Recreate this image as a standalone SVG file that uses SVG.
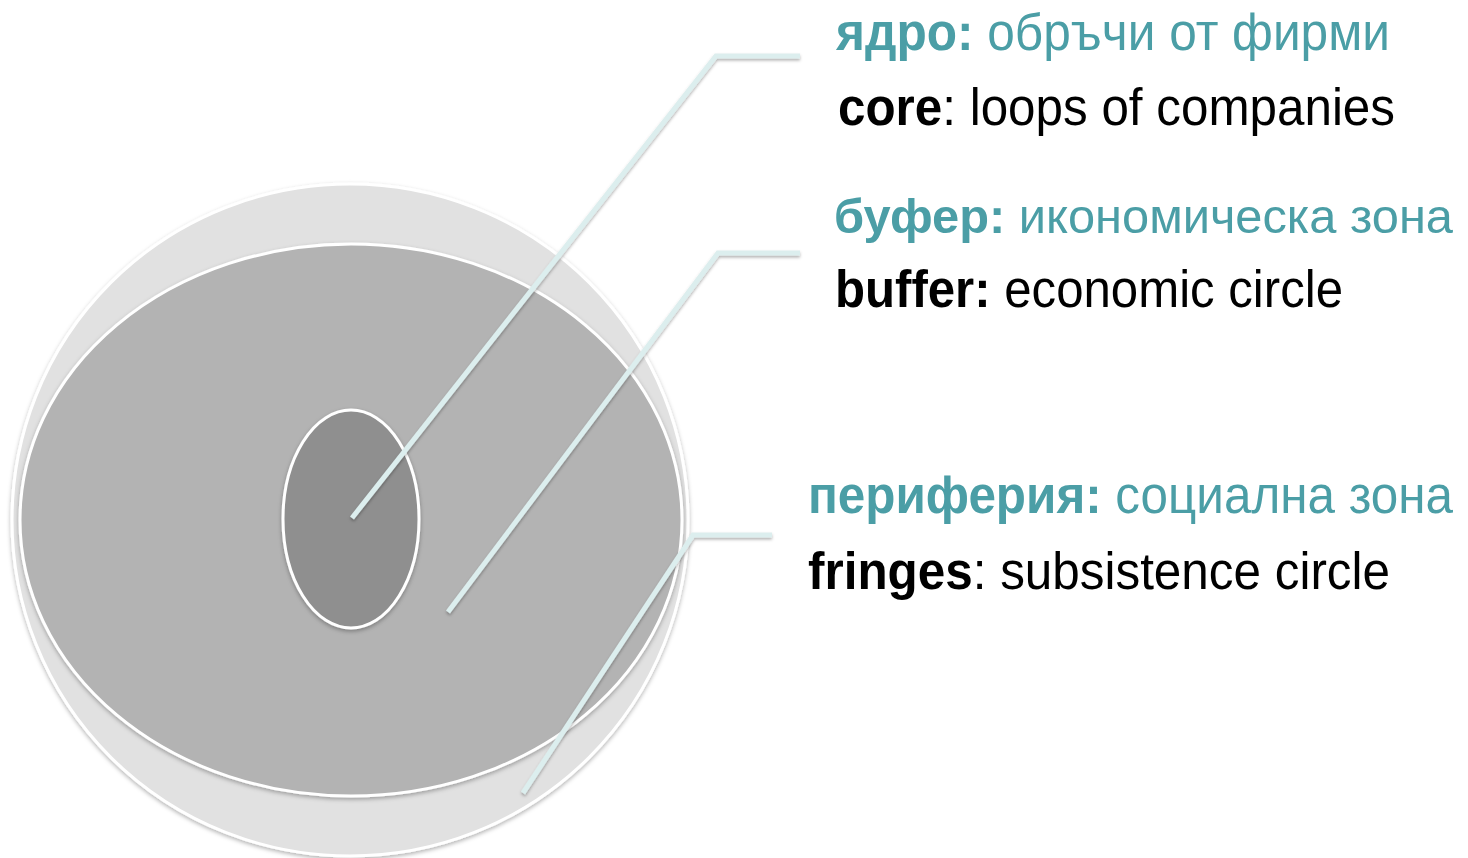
<svg xmlns="http://www.w3.org/2000/svg" width="1468" height="858" viewBox="0 0 1468 858">
<style>
.ring{stroke:#ffffff;stroke-width:3;filter:url(#sh)}
.lead{fill:none;stroke:#dceeee;stroke-width:5;filter:url(#lsh)}
.t{font-family:"Liberation Sans",Arial,sans-serif;font-size:51px}
.teal{fill:#4b9ea6}
.blk{fill:#000000}
.b{font-weight:bold}
</style>
<defs>
<filter id="sh" x="-10%" y="-10%" width="120%" height="120%">
<feDropShadow dx="0" dy="2" stdDeviation="2" flood-color="#000" flood-opacity="0.3"/>
</filter>
<filter id="lsh" x="-10%" y="-10%" width="120%" height="120%">
<feDropShadow dx="0" dy="2" stdDeviation="1.5" flood-color="#000" flood-opacity="0.3"/>
</filter>
</defs>
<g id="fringes"><ellipse class="ring" cx="350" cy="520" rx="338" ry="336" fill="#e1e1e1"/></g>
<g id="buffer"><ellipse class="ring" cx="351" cy="520" rx="331" ry="276" fill="#b3b3b3"/></g>
<g id="core"><ellipse class="ring" cx="351" cy="519" rx="68" ry="109" fill="#8f8f8f"/></g>
<g id="connectors">
<polyline class="lead" points="352,518 716,56 800,56"/>
<polyline class="lead" points="448,612 718,253 800,253"/>
<polyline class="lead" points="523,793 693,535 772,535"/>
</g>
<g id="label-core">
<text class="t teal" x="836" y="50" textLength="554" lengthAdjust="spacingAndGlyphs"><tspan class="b">ядро:</tspan> обръчи от фирми</text>
<text class="t blk" x="838" y="125" textLength="557" lengthAdjust="spacingAndGlyphs"><tspan class="b">core</tspan>: loops of companies</text>
</g>
<g id="label-buffer">
<text class="t teal" x="834" y="233" style="font-size:49px" textLength="619" lengthAdjust="spacingAndGlyphs"><tspan class="b">буфер:</tspan> икономическа зона</text>
<text class="t blk" x="835" y="307" textLength="508" lengthAdjust="spacingAndGlyphs"><tspan class="b">buffer:</tspan> economic circle</text>
</g>
<g id="label-fringes">
<text class="t teal" x="808" y="513" textLength="645" lengthAdjust="spacingAndGlyphs"><tspan class="b">периферия:</tspan> социална зона</text>
<text class="t blk" x="808" y="589" textLength="582" lengthAdjust="spacingAndGlyphs"><tspan class="b">fringes</tspan>: subsistence circle</text>
</g>
</svg>
